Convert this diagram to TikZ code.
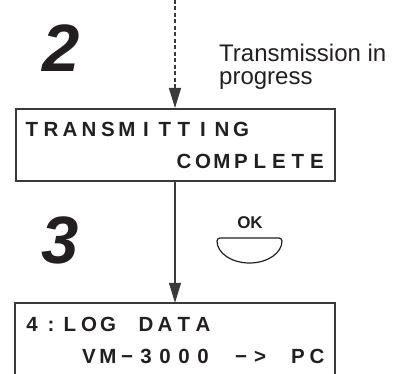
\documentclass[tikz,border=0pt]{standalone}
\usepackage{fontspec}
\setmainfont{Liberation Sans}
\usetikzlibrary{arrows.meta}
\definecolor{ink}{HTML}{231F20}
\definecolor{frame}{HTML}{3A3A3A}
\tikzset{
  lcdbox/.style={draw=frame, line width=2pt, minimum width=319pt, minimum height=72pt, inner sep=0pt},
  lcdch/.style={anchor=base, inner sep=0pt, text=ink, font=\bfseries\fontsize{20.5}{20.5}\selectfont},
  stepnum/.style={anchor=base, inner sep=0pt, text=ink, font=\bfseries\itshape\fontsize{67}{67}\selectfont},
  conn/.style={draw=frame, line width=1.2pt, -{Triangle[width=12pt,length=20pt]}},
  note/.style={anchor=base west, inner sep=0pt, text=ink, font=\fontsize{24}{23}\selectfont}
}
\begin{document}
\begin{tikzpicture}[x=1pt,y=-1pt]
\useasboundingbox (0,0) rectangle (402,374);
% boxes
\node[lcdbox] (box1) at (175,145) {};
\node[inner sep=0pt, minimum width=319pt, minimum height=84pt] (box2) at (175,345) {};
\draw[draw=frame, line width=2pt] (box2.south west) |- (box2.north east) -- (box2.south east);
% connectors
\coordinate (start) at (175,0);
\draw[conn, dashed, dash pattern=on 4pt off 2.5pt] (start) -- (box1.north);
\draw[conn] (box1.south) -- (box2.north);
% step numbers
\node[stepnum] (n2) at (61,72) {2};
\node[stepnum] (n3) at (60,264) {3};
% note
\node[note] (note1) at (219,62) {Transmission in};
\node[note] (note2) at (219,85) {progress};
% OK key
\node[anchor=base, inner sep=0pt, text=ink, font=\bfseries\fontsize{17}{17}\selectfont] (ok) at (250,229) {OK};
\draw[ink, line width=1.2pt] (220,238) -- (279,238) arc[start angle=-90, end angle=0, radius=3]
  arc[start angle=0, end angle=180, x radius=32.5, y radius=22]
  arc[start angle=180, end angle=270, radius=3] -- cycle;
% LCD texts
\foreach \c [count=\i from 0] in {T,R,A,N,S,M,I,T,T,I,N,G}
  \node[lcdch] (a\i) at (32+19*\i,137) {\c};
\foreach \c [count=\i from 8] in {C,O,M,P,L,E,T,E}
  \node[lcdch] (b\i) at (32+19*\i,169) {\c};
\foreach \c [count=\i from 0] in {4,:,L,O,G,{},D,A,T,A}
  \node[lcdch] (c\i) at (32+19*\i,331) {\c};
\foreach \c [count=\i from 3] in {V,M,−,3,0,0,0,{},−,>,{},P,C}
  \node[lcdch] (d\i) at (32+19*\i,363) {\c};
\end{tikzpicture}
\end{document}
